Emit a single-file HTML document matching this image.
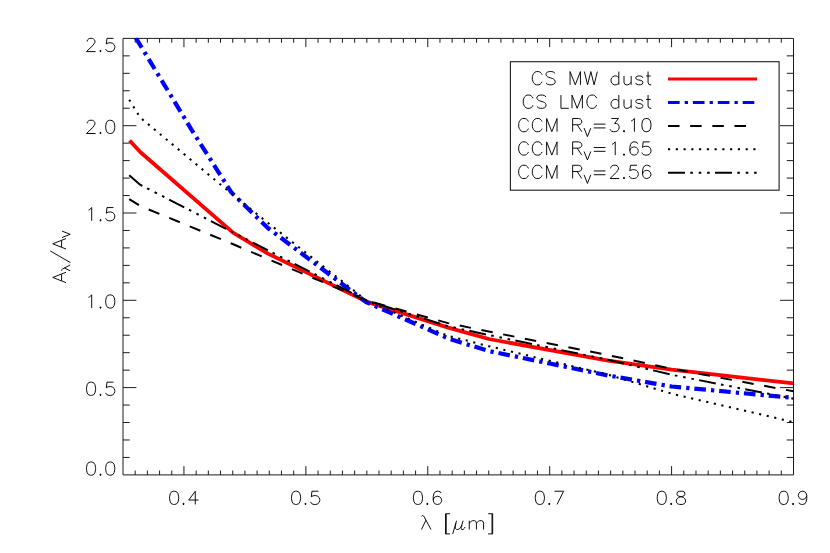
<!DOCTYPE html>
<html><head><meta charset="utf-8"><title>Extinction curves</title>
<style>html,body{margin:0;padding:0;background:#fff;font-family:"Liberation Sans",sans-serif}svg{display:block}</style></head>
<body>
<svg width="830" height="553" viewBox="0 0 830 553">
<rect width="830" height="553" fill="#fff"/>
<defs><clipPath id="cp"><rect x="122.4" y="37.699999999999996" width="671.7" height="437.9"/></clipPath></defs>
<path d="M123.0 38.4H793.5V474.9H123.0ZM135.19 474.9v-4.37M135.19 38.4v4.37M147.38 474.9v-4.37M147.38 38.4v4.37M159.57 474.9v-4.37M159.57 38.4v4.37M171.76 474.9v-4.37M171.76 38.4v4.37M183.95 474.9v-8.73M183.95 38.4v8.73M196.15 474.9v-4.37M196.15 38.4v4.37M208.34 474.9v-4.37M208.34 38.4v4.37M220.53 474.9v-4.37M220.53 38.4v4.37M232.72 474.9v-4.37M232.72 38.4v4.37M244.91 474.9v-4.37M244.91 38.4v4.37M257.10 474.9v-4.37M257.10 38.4v4.37M269.29 474.9v-4.37M269.29 38.4v4.37M281.48 474.9v-4.37M281.48 38.4v4.37M293.67 474.9v-4.37M293.67 38.4v4.37M305.86 474.9v-8.73M305.86 38.4v8.73M318.05 474.9v-4.37M318.05 38.4v4.37M330.25 474.9v-4.37M330.25 38.4v4.37M342.44 474.9v-4.37M342.44 38.4v4.37M354.63 474.9v-4.37M354.63 38.4v4.37M366.82 474.9v-4.37M366.82 38.4v4.37M379.01 474.9v-4.37M379.01 38.4v4.37M391.20 474.9v-4.37M391.20 38.4v4.37M403.39 474.9v-4.37M403.39 38.4v4.37M415.58 474.9v-4.37M415.58 38.4v4.37M427.77 474.9v-8.73M427.77 38.4v8.73M439.96 474.9v-4.37M439.96 38.4v4.37M452.15 474.9v-4.37M452.15 38.4v4.37M464.35 474.9v-4.37M464.35 38.4v4.37M476.54 474.9v-4.37M476.54 38.4v4.37M488.73 474.9v-4.37M488.73 38.4v4.37M500.92 474.9v-4.37M500.92 38.4v4.37M513.11 474.9v-4.37M513.11 38.4v4.37M525.30 474.9v-4.37M525.30 38.4v4.37M537.49 474.9v-4.37M537.49 38.4v4.37M549.68 474.9v-8.73M549.68 38.4v8.73M561.87 474.9v-4.37M561.87 38.4v4.37M574.06 474.9v-4.37M574.06 38.4v4.37M586.25 474.9v-4.37M586.25 38.4v4.37M598.45 474.9v-4.37M598.45 38.4v4.37M610.64 474.9v-4.37M610.64 38.4v4.37M622.83 474.9v-4.37M622.83 38.4v4.37M635.02 474.9v-4.37M635.02 38.4v4.37M647.21 474.9v-4.37M647.21 38.4v4.37M659.40 474.9v-4.37M659.40 38.4v4.37M671.59 474.9v-8.73M671.59 38.4v8.73M683.78 474.9v-4.37M683.78 38.4v4.37M695.97 474.9v-4.37M695.97 38.4v4.37M708.16 474.9v-4.37M708.16 38.4v4.37M720.35 474.9v-4.37M720.35 38.4v4.37M732.55 474.9v-4.37M732.55 38.4v4.37M744.74 474.9v-4.37M744.74 38.4v4.37M756.93 474.9v-4.37M756.93 38.4v4.37M769.12 474.9v-4.37M769.12 38.4v4.37M781.31 474.9v-4.37M781.31 38.4v4.37M123.0 457.44h6.71M793.5 457.44h-6.71M123.0 439.98h6.71M793.5 439.98h-6.71M123.0 422.52h6.71M793.5 422.52h-6.71M123.0 405.06h6.71M793.5 405.06h-6.71M123.0 387.60h13.41M793.5 387.60h-13.41M123.0 370.14h6.71M793.5 370.14h-6.71M123.0 352.68h6.71M793.5 352.68h-6.71M123.0 335.22h6.71M793.5 335.22h-6.71M123.0 317.76h6.71M793.5 317.76h-6.71M123.0 300.30h13.41M793.5 300.30h-13.41M123.0 282.84h6.71M793.5 282.84h-6.71M123.0 265.38h6.71M793.5 265.38h-6.71M123.0 247.92h6.71M793.5 247.92h-6.71M123.0 230.46h6.71M793.5 230.46h-6.71M123.0 213.00h13.41M793.5 213.00h-13.41M123.0 195.54h6.71M793.5 195.54h-6.71M123.0 178.08h6.71M793.5 178.08h-6.71M123.0 160.62h6.71M793.5 160.62h-6.71M123.0 143.16h6.71M793.5 143.16h-6.71M123.0 125.70h13.41M793.5 125.70h-13.41M123.0 108.24h6.71M793.5 108.24h-6.71M123.0 90.78h6.71M793.5 90.78h-6.71M123.0 73.32h6.71M793.5 73.32h-6.71M123.0 55.86h6.71M793.5 55.86h-6.71" fill="none" stroke="#1c1c1c" stroke-width="1.0"/>
<g clip-path="url(#cp)" fill="none">
<path d="M129.60 140.50L140.50 152.30L233.00 232.60L267.90 253.60L366.50 301.60L448.20 327.60L488.90 339.00L608.20 360.70L671.60 369.70L793.40 383.40" stroke="#ff0000" stroke-width="3.8" stroke-linejoin="round"/>
<path d="M129.60 27.60L140.50 45.60L191.00 128.80L231.50 192.60L267.90 228.00L366.00 302.00L448.20 338.40L488.90 351.10L608.20 375.50L671.60 386.50L793.40 397.90" stroke="#0000ff" stroke-width="4.2" stroke-dasharray="11.6 5.1 3.3 4.9" stroke-dashoffset="13" stroke-linejoin="round"/>
<path d="M129.22 199.09L140.07 205.92L232.72 244.04L267.58 258.95L366.82 300.53L448.01 323.11L488.73 331.55L608.20 355.12L671.59 368.75L793.50 391.28" stroke="#000" stroke-width="2" stroke-dasharray="11.5 10.67"/>
<path d="M129.22 99.73L140.07 117.41L232.72 194.72L267.58 222.59L366.82 300.71L448.01 335.82L488.73 346.18L608.20 374.70L671.59 393.66L793.50 422.12" stroke="#000" stroke-width="2.05" stroke-dasharray="2.15 5.61"/>
<path d="M129.22 175.24L140.07 184.68L232.72 232.20L267.58 250.22L366.82 300.57L448.01 326.16L488.73 335.06L608.20 359.82L671.59 374.73L793.50 398.68" stroke="#000" stroke-width="2" stroke-dasharray="17 5.3 2.6 5.8 2.6 5.8 2.6 5.3"/>
</g>
<rect x="510.4" y="61.7" width="268.70000000000005" height="128.5" fill="#fff" stroke="#1c1c1c" stroke-width="1.1"/>
<path d="M173.48 491.22L171.53 491.85L170.23 493.74L169.58 496.89L169.58 498.78L170.23 501.93L171.53 503.82L173.48 504.45L174.78 504.45L176.73 503.82L178.03 501.93L178.68 498.78L178.68 496.89L178.03 493.74L176.73 491.85L174.78 491.22L173.48 491.22M183.10 504.39L184.01 504.39L184.01 503.38L183.10 503.38L183.10 504.39L184.01 504.39M183.10 503.88L184.01 503.88M195.25 491.22L188.75 500.04L198.50 500.04M195.25 491.22L195.25 504.45M295.39 491.22L293.44 491.85L292.14 493.74L291.49 496.89L291.49 498.78L292.14 501.93L293.44 503.82L295.39 504.45L296.69 504.45L298.64 503.82L299.94 501.93L300.59 498.78L300.59 496.89L299.94 493.74L298.64 491.85L296.69 491.22L295.39 491.22M305.01 504.39L305.92 504.39L305.92 503.38L305.01 503.38L305.01 504.39L305.92 504.39M305.01 503.88L305.92 503.88M318.46 491.22L311.96 491.22L311.31 496.89L311.96 496.26L313.91 495.63L315.86 495.63L317.81 496.26L319.11 497.52L319.76 499.41L319.76 500.67L319.11 502.56L317.81 503.82L315.86 504.45L313.91 504.45L311.96 503.82L311.31 503.19L310.66 501.93M417.30 491.22L415.35 491.85L414.05 493.74L413.40 496.89L413.40 498.78L414.05 501.93L415.35 503.82L417.30 504.45L418.60 504.45L420.55 503.82L421.85 501.93L422.50 498.78L422.50 496.89L421.85 493.74L420.55 491.85L418.60 491.22L417.30 491.22M426.92 504.39L427.83 504.39L427.83 503.38L426.92 503.38L426.92 504.39L427.83 504.39M426.92 503.88L427.83 503.88M441.02 493.11L440.37 491.85L438.42 491.22L437.12 491.22L435.17 491.85L433.87 493.74L433.22 496.89L433.22 500.04L433.87 502.56L435.17 503.82L437.12 504.45L437.77 504.45L439.72 503.82L441.02 502.56L441.67 500.67L441.67 500.04L441.02 498.15L439.72 496.89L437.77 496.26L437.12 496.26L435.17 496.89L433.87 498.15L433.22 500.04M539.21 491.22L537.26 491.85L535.96 493.74L535.31 496.89L535.31 498.78L535.96 501.93L537.26 503.82L539.21 504.45L540.51 504.45L542.46 503.82L543.76 501.93L544.41 498.78L544.41 496.89L543.76 493.74L542.46 491.85L540.51 491.22L539.21 491.22M548.83 504.39L549.74 504.39L549.74 503.38L548.83 503.38L548.83 504.39L549.74 504.39M548.83 503.88L549.74 503.88M563.58 491.22L557.08 504.45M554.48 491.22L563.58 491.22M661.12 491.22L659.17 491.85L657.87 493.74L657.22 496.89L657.22 498.78L657.87 501.93L659.17 503.82L661.12 504.45L662.42 504.45L664.37 503.82L665.67 501.93L666.32 498.78L666.32 496.89L665.67 493.74L664.37 491.85L662.42 491.22L661.12 491.22M670.74 504.39L671.65 504.39L671.65 503.38L670.74 503.38L670.74 504.39L671.65 504.39M670.74 503.88L671.65 503.88M679.64 491.22L677.69 491.85L677.04 493.11L677.04 494.37L677.69 495.63L678.99 496.26L681.59 496.89L683.54 497.52L684.84 498.78L685.49 500.04L685.49 501.93L684.84 503.19L684.19 503.82L682.24 504.45L679.64 504.45L677.69 503.82L677.04 503.19L676.39 501.93L676.39 500.04L677.04 498.78L678.34 497.52L680.29 496.89L682.89 496.26L684.19 495.63L684.84 494.37L684.84 493.11L684.19 491.85L682.24 491.22L679.64 491.22M783.03 491.22L781.08 491.85L779.78 493.74L779.13 496.89L779.13 498.78L779.78 501.93L781.08 503.82L783.03 504.45L784.33 504.45L786.28 503.82L787.58 501.93L788.23 498.78L788.23 496.89L787.58 493.74L786.28 491.85L784.33 491.22L783.03 491.22M792.65 504.39L793.56 504.39L793.56 503.38L792.65 503.38L792.65 504.39L793.56 504.39M792.65 503.88L793.56 503.88M806.75 495.63L806.10 497.52L804.80 498.78L802.85 499.41L802.20 499.41L800.25 498.78L798.95 497.52L798.30 495.63L798.30 495.00L798.95 493.11L800.25 491.85L802.20 491.22L802.85 491.22L804.80 491.85L806.10 493.11L806.75 495.63L806.75 498.78L806.10 501.93L804.80 503.82L802.85 504.45L801.55 504.45L799.60 503.82L798.95 502.56M87.15 41.52L87.15 40.89L87.80 39.63L88.45 39.00L89.75 38.37L92.35 38.37L93.65 39.00L94.30 39.63L94.95 40.89L94.95 42.15L94.30 43.41L93.00 45.30L86.50 51.60L95.60 51.60M100.02 51.54L100.93 51.54L100.93 50.53L100.02 50.53L100.02 51.54L100.93 51.54M100.02 51.03L100.93 51.03M113.48 38.37L106.98 38.37L106.33 44.04L106.98 43.41L108.93 42.78L110.88 42.78L112.83 43.41L114.13 44.67L114.78 46.56L114.78 47.82L114.13 49.71L112.83 50.97L110.88 51.60L108.93 51.60L106.98 50.97L106.33 50.34L105.68 49.08M87.15 123.42L87.15 122.79L87.80 121.53L88.45 120.90L89.75 120.27L92.35 120.27L93.65 120.90L94.30 121.53L94.95 122.79L94.95 124.05L94.30 125.31L93.00 127.20L86.50 133.50L95.60 133.50M100.02 133.44L100.93 133.44L100.93 132.43L100.02 132.43L100.02 133.44L100.93 133.44M100.02 132.93L100.93 132.93M109.58 120.27L107.63 120.90L106.33 122.79L105.68 125.94L105.68 127.83L106.33 130.98L107.63 132.87L109.58 133.50L110.88 133.50L112.83 132.87L114.13 130.98L114.78 127.83L114.78 125.94L114.13 122.79L112.83 120.90L110.88 120.27L109.58 120.27M88.45 210.09L89.75 209.46L91.70 207.57L91.70 220.80M100.02 220.74L100.93 220.74L100.93 219.73L100.02 219.73L100.02 220.74L100.93 220.74M100.02 220.23L100.93 220.23M113.48 207.57L106.98 207.57L106.33 213.24L106.98 212.61L108.93 211.98L110.88 211.98L112.83 212.61L114.13 213.87L114.78 215.76L114.78 217.02L114.13 218.91L112.83 220.17L110.88 220.80L108.93 220.80L106.98 220.17L106.33 219.54L105.68 218.28M88.45 297.39L89.75 296.76L91.70 294.87L91.70 308.10M100.02 308.04L100.93 308.04L100.93 307.03L100.02 307.03L100.02 308.04L100.93 308.04M100.02 307.53L100.93 307.53M109.58 294.87L107.63 295.50L106.33 297.39L105.68 300.54L105.68 302.43L106.33 305.58L107.63 307.47L109.58 308.10L110.88 308.10L112.83 307.47L114.13 305.58L114.78 302.43L114.78 300.54L114.13 297.39L112.83 295.50L110.88 294.87L109.58 294.87M90.40 382.17L88.45 382.80L87.15 384.69L86.50 387.84L86.50 389.73L87.15 392.88L88.45 394.77L90.40 395.40L91.70 395.40L93.65 394.77L94.95 392.88L95.60 389.73L95.60 387.84L94.95 384.69L93.65 382.80L91.70 382.17L90.40 382.17M100.02 395.34L100.93 395.34L100.93 394.33L100.02 394.33L100.02 395.34L100.93 395.34M100.02 394.83L100.93 394.83M113.48 382.17L106.98 382.17L106.33 387.84L106.98 387.21L108.93 386.58L110.88 386.58L112.83 387.21L114.13 388.47L114.78 390.36L114.78 391.62L114.13 393.51L112.83 394.77L110.88 395.40L108.93 395.40L106.98 394.77L106.33 394.14L105.68 392.88M90.40 461.97L88.45 462.60L87.15 464.49L86.50 467.64L86.50 469.53L87.15 472.68L88.45 474.57L90.40 475.20L91.70 475.20L93.65 474.57L94.95 472.68L95.60 469.53L95.60 467.64L94.95 464.49L93.65 462.60L91.70 461.97L90.40 461.97M100.02 475.14L100.93 475.14L100.93 474.13L100.02 474.13L100.02 475.14L100.93 475.14M100.02 474.63L100.93 474.63M109.58 461.97L107.63 462.60L106.33 464.49L105.68 467.64L105.68 469.53L106.33 472.68L107.63 474.57L109.58 475.20L110.88 475.20L112.83 474.57L114.13 472.68L114.78 469.53L114.78 467.64L114.13 464.49L112.83 462.60L110.88 461.97L109.58 461.97M421.50 516.14L422.47 515.64L423.45 515.83L424.30 517.03L430.93 529.50M425.92 520.18L421.50 529.50M445.55 513.75L445.55 533.91M446.20 513.75L446.20 533.91M445.55 513.75L450.10 513.75M445.55 533.91L450.10 533.91M456.60 520.68L452.70 533.91M455.95 523.20L455.30 526.35L455.30 528.24L456.60 529.50L457.90 529.50L459.20 528.87L460.50 527.61L461.80 525.09M463.10 520.68L461.80 525.09L461.15 527.61L461.15 528.87L461.80 529.50L463.10 529.50L464.40 528.24L465.05 526.98M469.27 520.68L469.27 529.50M469.27 523.20L471.22 521.31L472.52 520.68L474.47 520.68L475.77 521.31L476.43 523.20L476.43 529.50M476.43 523.20L478.38 521.31L479.68 520.68L481.62 520.68L482.93 521.31L483.57 523.20L483.57 529.50M492.02 513.75L492.02 533.91M492.68 513.75L492.68 533.91M488.12 513.75L492.68 513.75M488.12 533.91L492.68 533.91M52.77 277.45L66.00 282.65M52.77 277.45L66.00 272.25M61.59 280.70L61.59 274.20M61.92 270.79L61.61 270.19L61.72 269.59L62.47 269.06L70.20 264.95M64.42 268.05L70.20 270.79M50.25 250.94L70.41 262.64M52.77 243.79L66.00 248.99M52.77 243.79L66.00 238.59M61.59 247.04L61.59 240.54M62.00 237.54L70.20 234.32M62.00 231.09L70.20 234.32M542.10 74.72L541.45 73.46L540.15 72.20L538.85 71.57L536.25 71.57L534.95 72.20L533.65 73.46L533.00 74.72L532.35 76.61L532.35 79.76L533.00 81.65L533.65 82.91L534.95 84.17L536.25 84.80L538.85 84.80L540.15 84.17L541.45 82.91L542.10 81.65M555.10 73.46L553.80 72.20L551.85 71.57L549.25 71.57L547.30 72.20L546.00 73.46L546.00 74.72L546.65 75.98L547.30 76.61L548.60 77.24L552.50 78.50L553.80 79.13L554.45 79.76L555.10 81.02L555.10 82.91L553.80 84.17L551.85 84.80L549.25 84.80L547.30 84.17L546.00 82.91M570.05 71.57L570.05 84.80M570.05 71.57L575.25 84.80M580.45 71.57L575.25 84.80M580.45 71.57L580.45 84.80M584.35 71.57L587.60 84.80M590.85 71.57L587.60 84.80M590.85 71.57L594.10 84.80M597.35 71.57L594.10 84.80M618.80 71.57L618.80 84.80M618.80 77.87L617.50 76.61L616.20 75.98L614.25 75.98L612.95 76.61L611.65 77.87L611.00 79.76L611.00 81.02L611.65 82.91L612.95 84.17L614.25 84.80L616.20 84.80L617.50 84.17L618.80 82.91M624.00 75.98L624.00 82.28L624.65 84.17L625.95 84.80L627.90 84.80L629.20 84.17L631.15 82.28M631.15 75.98L631.15 84.80M642.85 77.87L642.20 76.61L640.25 75.98L638.30 75.98L636.35 76.61L635.70 77.87L636.35 79.13L637.65 79.76L640.90 80.39L642.20 81.02L642.85 82.28L642.85 82.91L642.20 84.17L640.25 84.80L638.30 84.80L636.35 84.17L635.70 82.91M648.05 71.57L648.05 82.28L648.70 84.17L650.00 84.80L651.30 84.80M646.10 75.98L650.65 75.98M533.00 98.22L532.35 96.96L531.05 95.70L529.75 95.07L527.15 95.07L525.85 95.70L524.55 96.96L523.90 98.22L523.25 100.11L523.25 103.26L523.90 105.15L524.55 106.41L525.85 107.67L527.15 108.30L529.75 108.30L531.05 107.67L532.35 106.41L533.00 105.15M546.00 96.96L544.70 95.70L542.75 95.07L540.15 95.07L538.20 95.70L536.90 96.96L536.90 98.22L537.55 99.48L538.20 100.11L539.50 100.74L543.40 102.00L544.70 102.63L545.35 103.26L546.00 104.52L546.00 106.41L544.70 107.67L542.75 108.30L540.15 108.30L538.20 107.67L536.90 106.41M560.95 95.07L560.95 108.30M560.95 108.30L568.75 108.30M572.00 95.07L572.00 108.30M572.00 95.07L577.20 108.30M582.40 95.07L577.20 108.30M582.40 95.07L582.40 108.30M596.70 98.22L596.05 96.96L594.75 95.70L593.45 95.07L590.85 95.07L589.55 95.70L588.25 96.96L587.60 98.22L586.95 100.11L586.95 103.26L587.60 105.15L588.25 106.41L589.55 107.67L590.85 108.30L593.45 108.30L594.75 107.67L596.05 106.41L596.70 105.15M618.80 95.07L618.80 108.30M618.80 101.37L617.50 100.11L616.20 99.48L614.25 99.48L612.95 100.11L611.65 101.37L611.00 103.26L611.00 104.52L611.65 106.41L612.95 107.67L614.25 108.30L616.20 108.30L617.50 107.67L618.80 106.41M624.00 99.48L624.00 105.78L624.65 107.67L625.95 108.30L627.90 108.30L629.20 107.67L631.15 105.78M631.15 99.48L631.15 108.30M642.85 101.37L642.20 100.11L640.25 99.48L638.30 99.48L636.35 100.11L635.70 101.37L636.35 102.63L637.65 103.26L640.90 103.89L642.20 104.52L642.85 105.78L642.85 106.41L642.20 107.67L640.25 108.30L638.30 108.30L636.35 107.67L635.70 106.41M648.05 95.07L648.05 105.78L648.70 107.67L650.00 108.30L651.30 108.30M646.10 99.48L650.65 99.48M528.44 121.62L527.79 120.36L526.49 119.10L525.19 118.47L522.59 118.47L521.29 119.10L519.99 120.36L519.34 121.62L518.69 123.51L518.69 126.66L519.34 128.55L519.99 129.81L521.29 131.07L522.59 131.70L525.19 131.70L526.49 131.07L527.79 129.81L528.44 128.55M542.09 121.62L541.44 120.36L540.14 119.10L538.84 118.47L536.24 118.47L534.94 119.10L533.64 120.36L532.99 121.62L532.34 123.51L532.34 126.66L532.99 128.55L533.64 129.81L534.94 131.07L536.24 131.70L538.84 131.70L540.14 131.07L541.44 129.81L542.09 128.55M546.64 118.47L546.64 131.70M546.64 118.47L551.84 131.70M557.04 118.47L551.84 131.70M557.04 118.47L557.04 131.70M572.64 118.47L572.64 131.70M572.64 118.47L578.49 118.47L580.44 119.10L581.09 119.73L581.74 120.99L581.74 122.25L581.09 123.51L580.44 124.14L578.49 124.77L572.64 124.77M577.19 124.77L581.74 131.70M584.10 128.13L587.43 136.60M590.76 128.13L587.43 136.60M593.78 124.14L605.48 124.14M593.78 127.92L605.48 127.92M611.33 118.47L618.48 118.47L614.58 123.51L616.53 123.51L617.83 124.14L618.48 124.77L619.13 126.66L619.13 127.92L618.48 129.81L617.18 131.07L615.23 131.70L613.28 131.70L611.33 131.07L610.68 130.44L610.03 129.18M623.55 131.64L624.46 131.64L624.46 130.63L623.55 130.63L623.55 131.64L624.46 131.64M623.55 131.13L624.46 131.13M631.15 120.99L632.45 120.36L634.40 118.47L634.40 131.70M645.78 118.47L643.83 119.10L642.53 120.99L641.88 124.14L641.88 126.03L642.53 129.18L643.83 131.07L645.78 131.70L647.08 131.70L649.03 131.07L650.33 129.18L650.98 126.03L650.98 124.14L650.33 120.99L649.03 119.10L647.08 118.47L645.78 118.47M528.44 145.02L527.79 143.76L526.49 142.50L525.19 141.87L522.59 141.87L521.29 142.50L519.99 143.76L519.34 145.02L518.69 146.91L518.69 150.06L519.34 151.95L519.99 153.21L521.29 154.47L522.59 155.10L525.19 155.10L526.49 154.47L527.79 153.21L528.44 151.95M542.09 145.02L541.44 143.76L540.14 142.50L538.84 141.87L536.24 141.87L534.94 142.50L533.64 143.76L532.99 145.02L532.34 146.91L532.34 150.06L532.99 151.95L533.64 153.21L534.94 154.47L536.24 155.10L538.84 155.10L540.14 154.47L541.44 153.21L542.09 151.95M546.64 141.87L546.64 155.10M546.64 141.87L551.84 155.10M557.04 141.87L551.84 155.10M557.04 141.87L557.04 155.10M572.64 141.87L572.64 155.10M572.64 141.87L578.49 141.87L580.44 142.50L581.09 143.13L581.74 144.39L581.74 145.65L581.09 146.91L580.44 147.54L578.49 148.17L572.64 148.17M577.19 148.17L581.74 155.10M584.10 151.53L587.43 160.00M590.76 151.53L587.43 160.00M593.78 147.54L605.48 147.54M593.78 151.32L605.48 151.32M611.98 144.39L613.28 143.76L615.23 141.87L615.23 155.10M623.55 155.04L624.46 155.04L624.46 154.03L623.55 154.03L623.55 155.04L624.46 155.04M623.55 154.53L624.46 154.53M637.65 143.76L637.00 142.50L635.05 141.87L633.75 141.87L631.80 142.50L630.50 144.39L629.85 147.54L629.85 150.69L630.50 153.21L631.80 154.47L633.75 155.10L634.40 155.10L636.35 154.47L637.65 153.21L638.30 151.32L638.30 150.69L637.65 148.80L636.35 147.54L634.40 146.91L633.75 146.91L631.80 147.54L630.50 148.80L629.85 150.69M649.68 141.87L643.18 141.87L642.53 147.54L643.18 146.91L645.13 146.28L647.08 146.28L649.03 146.91L650.33 148.17L650.98 150.06L650.98 151.32L650.33 153.21L649.03 154.47L647.08 155.10L645.13 155.10L643.18 154.47L642.53 153.84L641.88 152.58M528.44 168.42L527.79 167.16L526.49 165.90L525.19 165.27L522.59 165.27L521.29 165.90L519.99 167.16L519.34 168.42L518.69 170.31L518.69 173.46L519.34 175.35L519.99 176.61L521.29 177.87L522.59 178.50L525.19 178.50L526.49 177.87L527.79 176.61L528.44 175.35M542.09 168.42L541.44 167.16L540.14 165.90L538.84 165.27L536.24 165.27L534.94 165.90L533.64 167.16L532.99 168.42L532.34 170.31L532.34 173.46L532.99 175.35L533.64 176.61L534.94 177.87L536.24 178.50L538.84 178.50L540.14 177.87L541.44 176.61L542.09 175.35M546.64 165.27L546.64 178.50M546.64 165.27L551.84 178.50M557.04 165.27L551.84 178.50M557.04 165.27L557.04 178.50M572.64 165.27L572.64 178.50M572.64 165.27L578.49 165.27L580.44 165.90L581.09 166.53L581.74 167.79L581.74 169.05L581.09 170.31L580.44 170.94L578.49 171.57L572.64 171.57M577.19 171.57L581.74 178.50M584.10 174.93L587.43 183.40M590.76 174.93L587.43 183.40M593.78 170.94L605.48 170.94M593.78 174.72L605.48 174.72M610.68 168.42L610.68 167.79L611.33 166.53L611.98 165.90L613.28 165.27L615.88 165.27L617.18 165.90L617.83 166.53L618.48 167.79L618.48 169.05L617.83 170.31L616.53 172.20L610.03 178.50L619.13 178.50M623.55 178.44L624.46 178.44L624.46 177.43L623.55 177.43L623.55 178.44L624.46 178.44M623.55 177.93L624.46 177.93M637.00 165.27L630.50 165.27L629.85 170.94L630.50 170.31L632.45 169.68L634.40 169.68L636.35 170.31L637.65 171.57L638.30 173.46L638.30 174.72L637.65 176.61L636.35 177.87L634.40 178.50L632.45 178.50L630.50 177.87L629.85 177.24L629.20 175.98M650.33 167.16L649.68 165.90L647.73 165.27L646.43 165.27L644.48 165.90L643.18 167.79L642.53 170.94L642.53 174.09L643.18 176.61L644.48 177.87L646.43 178.50L647.08 178.50L649.03 177.87L650.33 176.61L650.98 174.72L650.98 174.09L650.33 172.20L649.03 170.94L647.08 170.31L646.43 170.31L644.48 170.94L643.18 172.20L642.53 174.09" fill="none" stroke="#000" stroke-width="0.95" stroke-linecap="butt" stroke-linejoin="round"/>
<path d="M668 79.0H757" stroke="#ff0000" stroke-width="3.0" fill="none"/>
<path d="M668 102.5H754.3" stroke="#0000ff" stroke-width="3.0" stroke-dasharray="11.6 5.1 3.3 4.9" fill="none"/>
<path d="M668 126.0H746.2" stroke="#000" stroke-width="2" stroke-dasharray="11.5 10.67" fill="none"/>
<path d="M668 149.2H757" stroke="#000" stroke-width="2.05" stroke-dasharray="2.15 5.61" fill="none"/>
<path d="M668 172.8H757" stroke="#000" stroke-width="2" stroke-dasharray="17 5.3 2.6 5.8 2.6 5.8 2.6 5.3" fill="none"/>
</svg>
</body></html>
